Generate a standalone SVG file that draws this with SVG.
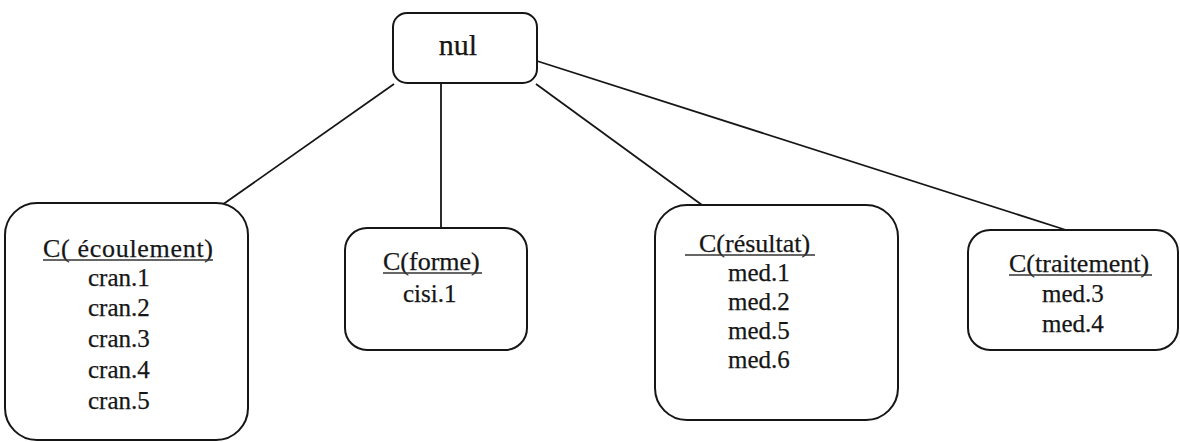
<svg xmlns="http://www.w3.org/2000/svg" width="1180" height="442" viewBox="0 0 1180 442">
  <style>
    .box { fill: #ffffff; stroke: #161616; stroke-width: 2; }
    .edge { fill: none; stroke: #161616; stroke-width: 1.8; }
    .ul { stroke: #333333; stroke-width: 1.4; }
    text { font-family: "Liberation Serif", "Times New Roman", serif; fill: #161616; stroke: #161616; stroke-width: 0.25; }
    .title { font-size: 26px; }
    .item { font-size: 25px; }
    .root { font-size: 30px; }
  </style>
  <rect width="1180" height="442" fill="#ffffff"/>

  <!-- connectors from the root to each class -->
  <g id="connectors">
    <line class="edge" x1="394" y1="84" x2="222" y2="205"/>
    <line class="edge" x1="441" y1="83" x2="441" y2="228"/>
    <line class="edge" x1="536" y1="84" x2="702" y2="205"/>
    <line class="edge" x1="537" y1="61" x2="1066" y2="230"/>
  </g>

  <g id="node-nul">
    <rect class="box" x="393" y="13" width="144" height="70" rx="14"/>
    <text class="root" x="458" y="55" text-anchor="middle">nul</text>
  </g>

  <g id="node-ecoulement">
    <rect class="box" x="5" y="203" width="243" height="237" rx="32"/>
    <text class="title" x="43" y="257" textLength="170" lengthAdjust="spacing">C( écoulement)</text>
    <line class="ul" x1="43" y1="260" x2="213" y2="260"/>
    <text class="item" x="88" y="286">cran.1</text>
    <text class="item" x="88" y="316">cran.2</text>
    <text class="item" x="88" y="347">cran.3</text>
    <text class="item" x="88" y="378">cran.4</text>
    <text class="item" x="88" y="409">cran.5</text>
  </g>

  <g id="node-forme">
    <rect class="box" x="345" y="228" width="182" height="122" rx="22"/>
    <text class="title" x="383" y="270">C(forme)</text>
    <line class="ul" x1="383" y1="273" x2="482" y2="273"/>
    <text class="item" x="403" y="302">cisi.1</text>
  </g>

  <g id="node-resultat">
    <rect class="box" x="655" y="205" width="243" height="215" rx="32"/>
    <text class="title" x="699" y="252">C(résultat)</text>
    <line class="ul" x1="685" y1="255" x2="815" y2="255"/>
    <text class="item" x="728" y="281">med.1</text>
    <text class="item" x="728" y="310">med.2</text>
    <text class="item" x="728" y="339">med.5</text>
    <text class="item" x="728" y="368">med.6</text>
  </g>

  <g id="node-traitement">
    <rect class="box" x="968" y="230" width="210" height="120" rx="22"/>
    <text class="title" x="1009" y="272">C(traitement)</text>
    <line class="ul" x1="1009" y1="275" x2="1152" y2="275"/>
    <text class="item" x="1042" y="302">med.3</text>
    <text class="item" x="1042" y="332">med.4</text>
  </g>
</svg>
